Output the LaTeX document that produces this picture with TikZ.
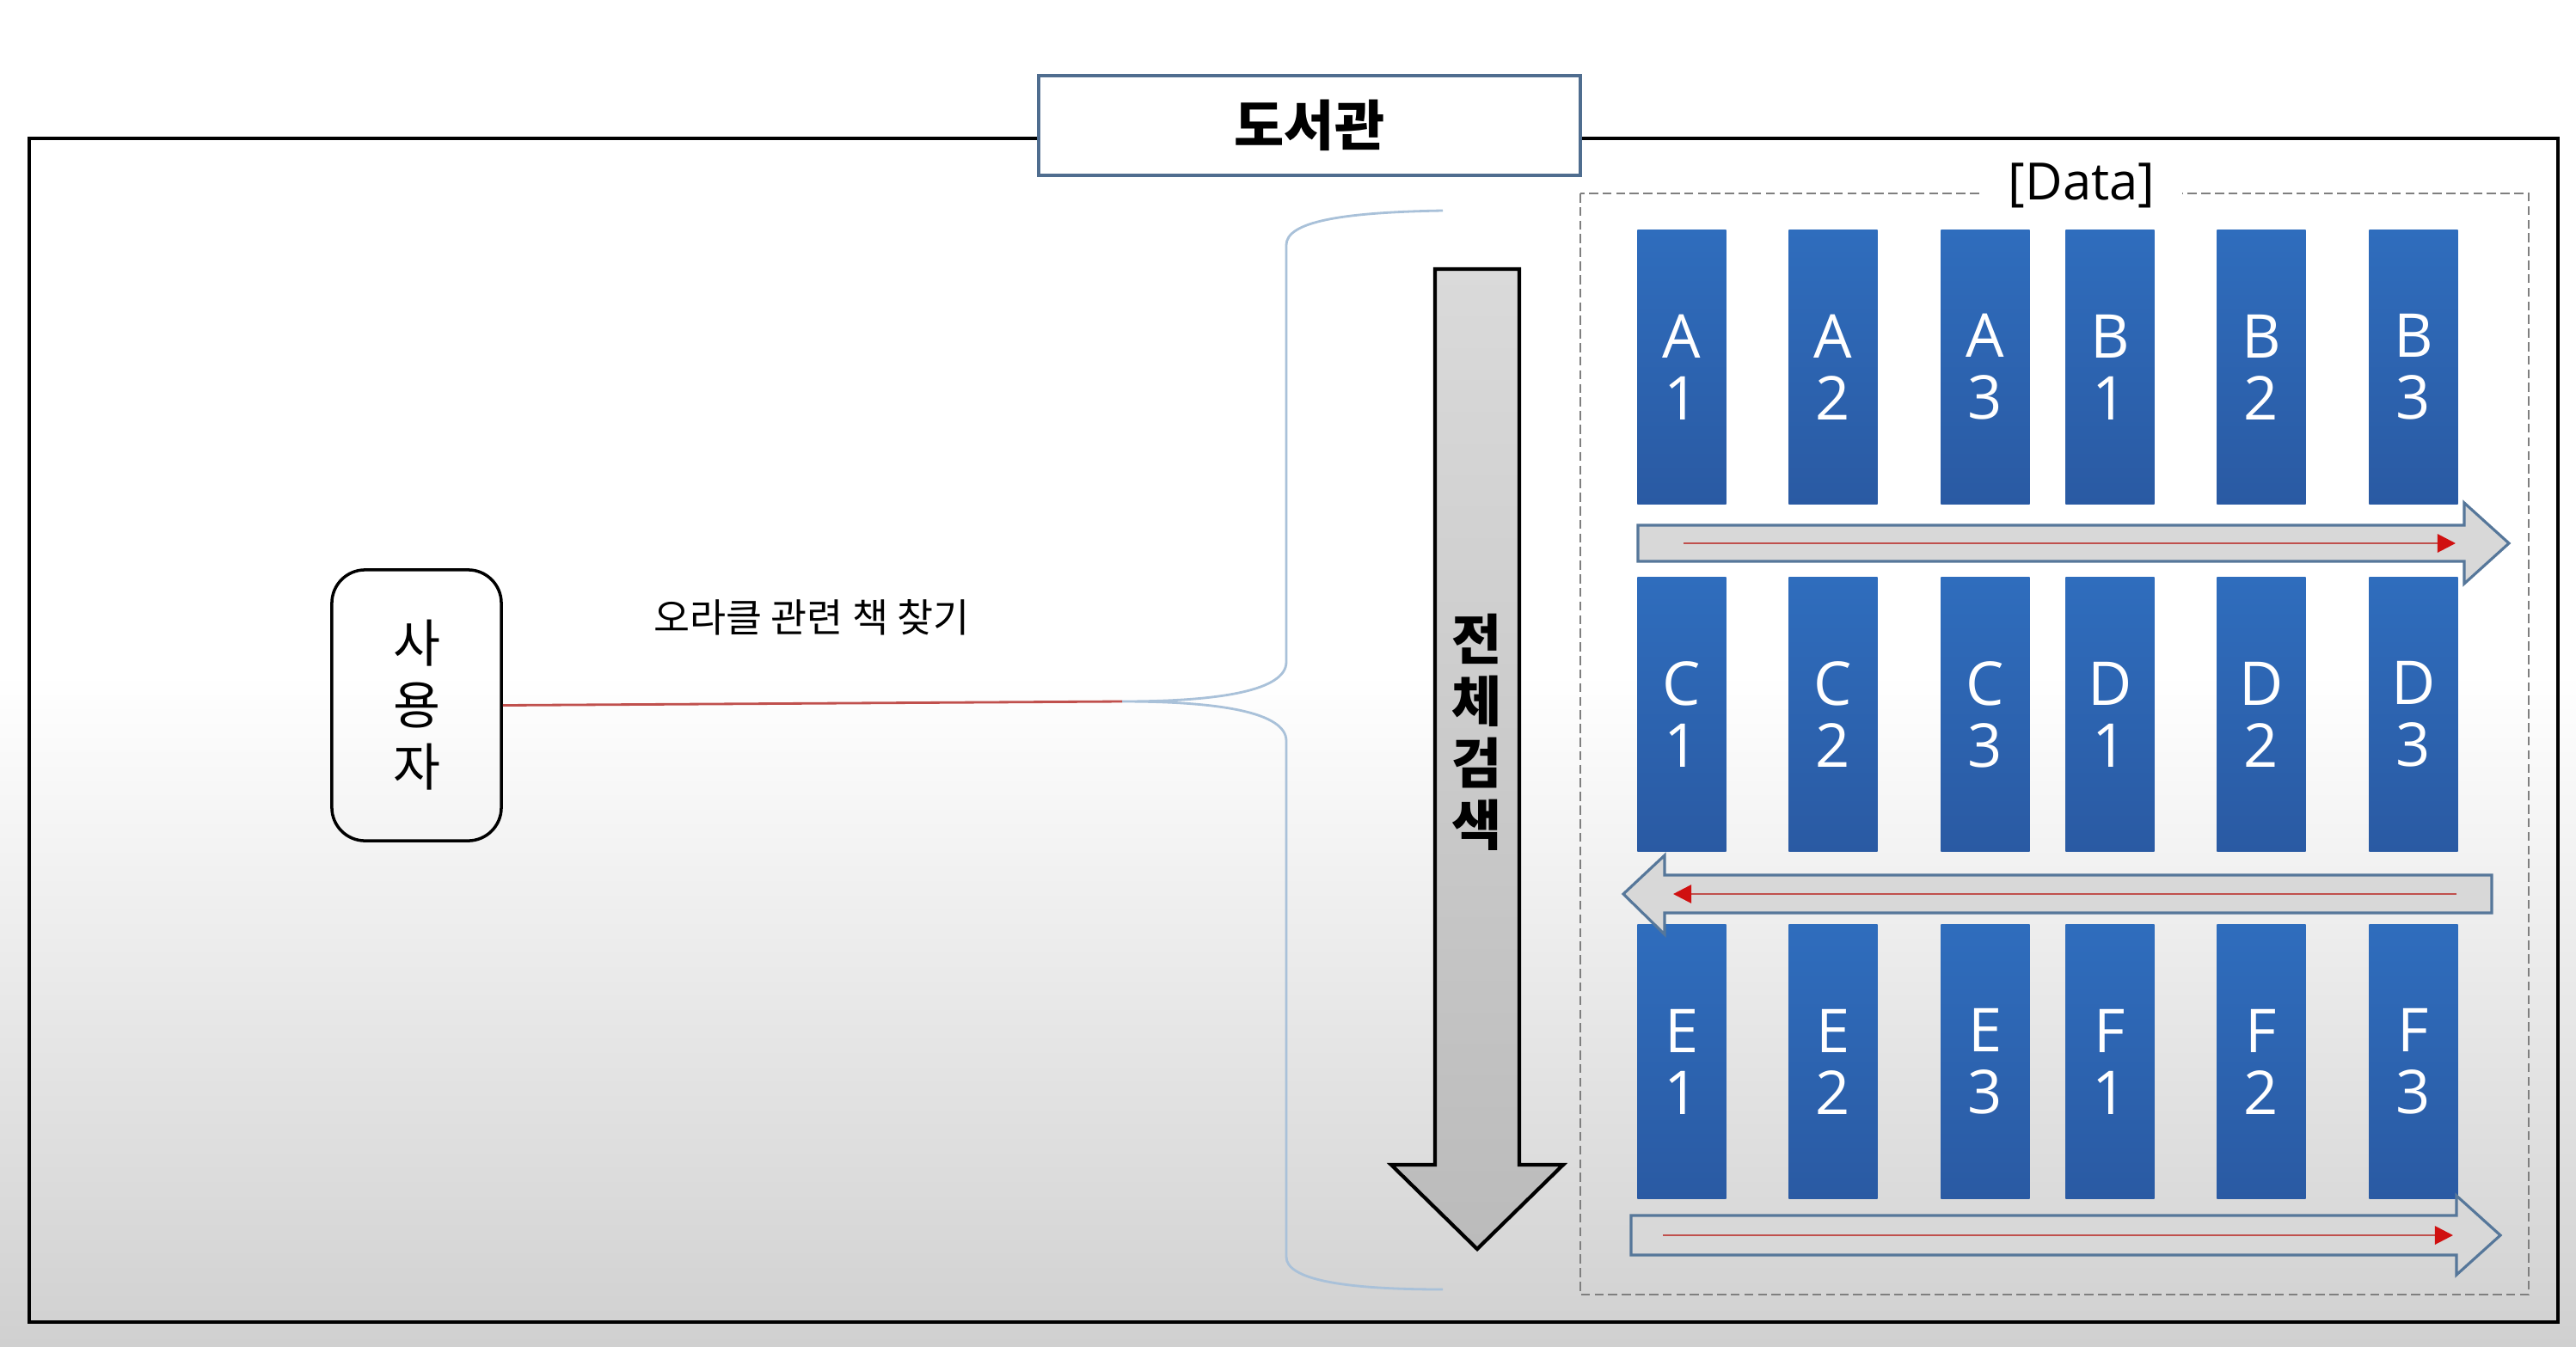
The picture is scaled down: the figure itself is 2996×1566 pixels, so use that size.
\documentclass[tikz,border=0pt]{standalone}
\usepackage{fontspec}
\setmainfont{Open Sans}
\newfontfamily\kr{Noto Sans CJK KR}
\usetikzlibrary{arrows.meta}
\definecolor{bggray}{HTML}{D0D0D0}
\definecolor{titleborder}{HTML}{4F6D8F}
\definecolor{bracecol}{HTML}{A9C1D9}
\definecolor{bartop}{HTML}{2F6DBD}
\definecolor{barbot}{HTML}{2A5AA3}
\definecolor{harrowfill}{HTML}{D8D8D8}
\definecolor{harrowline}{HTML}{56779A}
\definecolor{redline}{HTML}{C0504D}
\definecolor{redtip}{HTML}{D01010}
\definecolor{dashcol}{HTML}{7F7F7F}
\definecolor{downtop}{HTML}{DADADA}
\definecolor{downbot}{HTML}{BBBBBB}
\begin{document}
\begin{tikzpicture}[x=0.01cm,y=-0.01cm,
  bar/.style={minimum width=1.03cm, minimum height=3.19cm, inner sep=0pt,
    top color=bartop, bottom color=barbot, text=white, align=center,
    font=\fontsize{20}{20.5}\selectfont},
  harrow/.style={draw=harrowline, line width=0.9pt, fill=harrowfill},
  redarrow/.style={draw=redline, line width=0.8pt,
    -{Triangle[length=6pt,width=6pt,color=redtip]}},
  bracestyle/.style={draw=bracecol, line width=0.8pt},
  titlebox/.style={draw=titleborder, line width=1pt, fill=white,
    minimum width=6.3cm, minimum height=1.16cm, inner sep=0pt,
    font=\kr\bfseries\fontsize{18}{18}\selectfont},
  userbox/.style={draw=black, line width=1pt, rounded corners=11pt,
    minimum width=1.97cm, minimum height=3.15cm, inner sep=0pt, align=center,
    font=\kr\fontsize{17}{20.5}\selectfont},
]
% background
\shade[top color=white, bottom color=bggray, middle color=white]
  (0,0) rectangle (2996,1566);
\useasboundingbox (0,0) rectangle (2996,1566);
% outer frame
\draw[line width=1.1pt] (34,161) rectangle (2975,1538);
% title
\node[titlebox] (title) at (1523,146) {도서관};
% user
\node[userbox] (user) at (484.5,820.5) {사\\용\\자};
\node[font=\kr\fontsize{13}{13}\selectfont] (lbl) at (944,718) {오라클 관련 책 찾기};
% brace
\coordinate (tip) at (1305,816);
\draw[bracestyle] (1678,245) .. controls (1560,247) and (1496,258) .. (1496,285)
  -- (1496,770) .. controls (1496,803) and (1420,816) .. (tip)
  .. controls (1420,816) and (1496,829) .. (1496,862)
  -- (1496,1462) .. controls (1496,1488) and (1560,1500) .. (1678,1500);
\draw[draw=redline, line width=0.8pt] (user.east) -- (tip);
% down arrow
\shade[draw=black, line width=1.2pt, top color=downtop, bottom color=downbot]
  (1669,313) -- (1767,313) -- (1767,1355) -- (1818,1355) -- (1718,1453)
  -- (1618,1355) -- (1669,1355) -- cycle;
\node[font=\kr\bfseries\fontsize{18}{20.5}\selectfont, align=center]
  (search) at (1718,852) {전\\체\\검\\색};
% data box
\draw[dashcol, line width=0.7pt, dash pattern=on 3pt off 1.5pt]
  (1838,225) rectangle (2941,1506);
\node[fill=white, inner xsep=9pt, inner ysep=1pt, font=\fontsize{17}{17}\selectfont]
  (datalbl) at (2421,216) {[Data]};
% bars
\foreach \l/\d/\x/\y in {A/1/1956/427, A/2/2132/427, A/3/2309/427,
    B/1/2454/427, B/2/2630/427, B/3/2807/427,
    C/1/1956/831, C/2/2132/831, C/3/2309/831,
    D/1/2454/831, D/2/2630/831, D/3/2807/831,
    E/1/1956/1235, E/2/2132/1235, E/3/2309/1235,
    F/1/2454/1235, F/2/2630/1235, F/3/2807/1235}
  \node[bar] (\l\d) at (\x,\y) {\l\\\d};
% horizontal arrows
\draw[harrow] (1905,611) -- (2866,611) -- (2866,585) -- (2918,632) -- (2866,679)
  -- (2866,653) -- (1905,653) -- cycle;
\draw[redarrow] (1958,632) -- (2856,632);
\draw[harrow] (2898,1018) -- (1936,1018) -- (1936,995) -- (1888,1040) -- (1936,1087)
  -- (1936,1062) -- (2898,1062) -- cycle;
\draw[redarrow] (2857,1040) -- (1946,1040);
\draw[harrow] (1897,1414) -- (2857,1414) -- (2857,1391) -- (2908,1437) -- (2857,1483)
  -- (2857,1460) -- (1897,1460) -- cycle;
\draw[redarrow] (1934,1437) -- (2853,1437);
\end{tikzpicture}
\end{document}
